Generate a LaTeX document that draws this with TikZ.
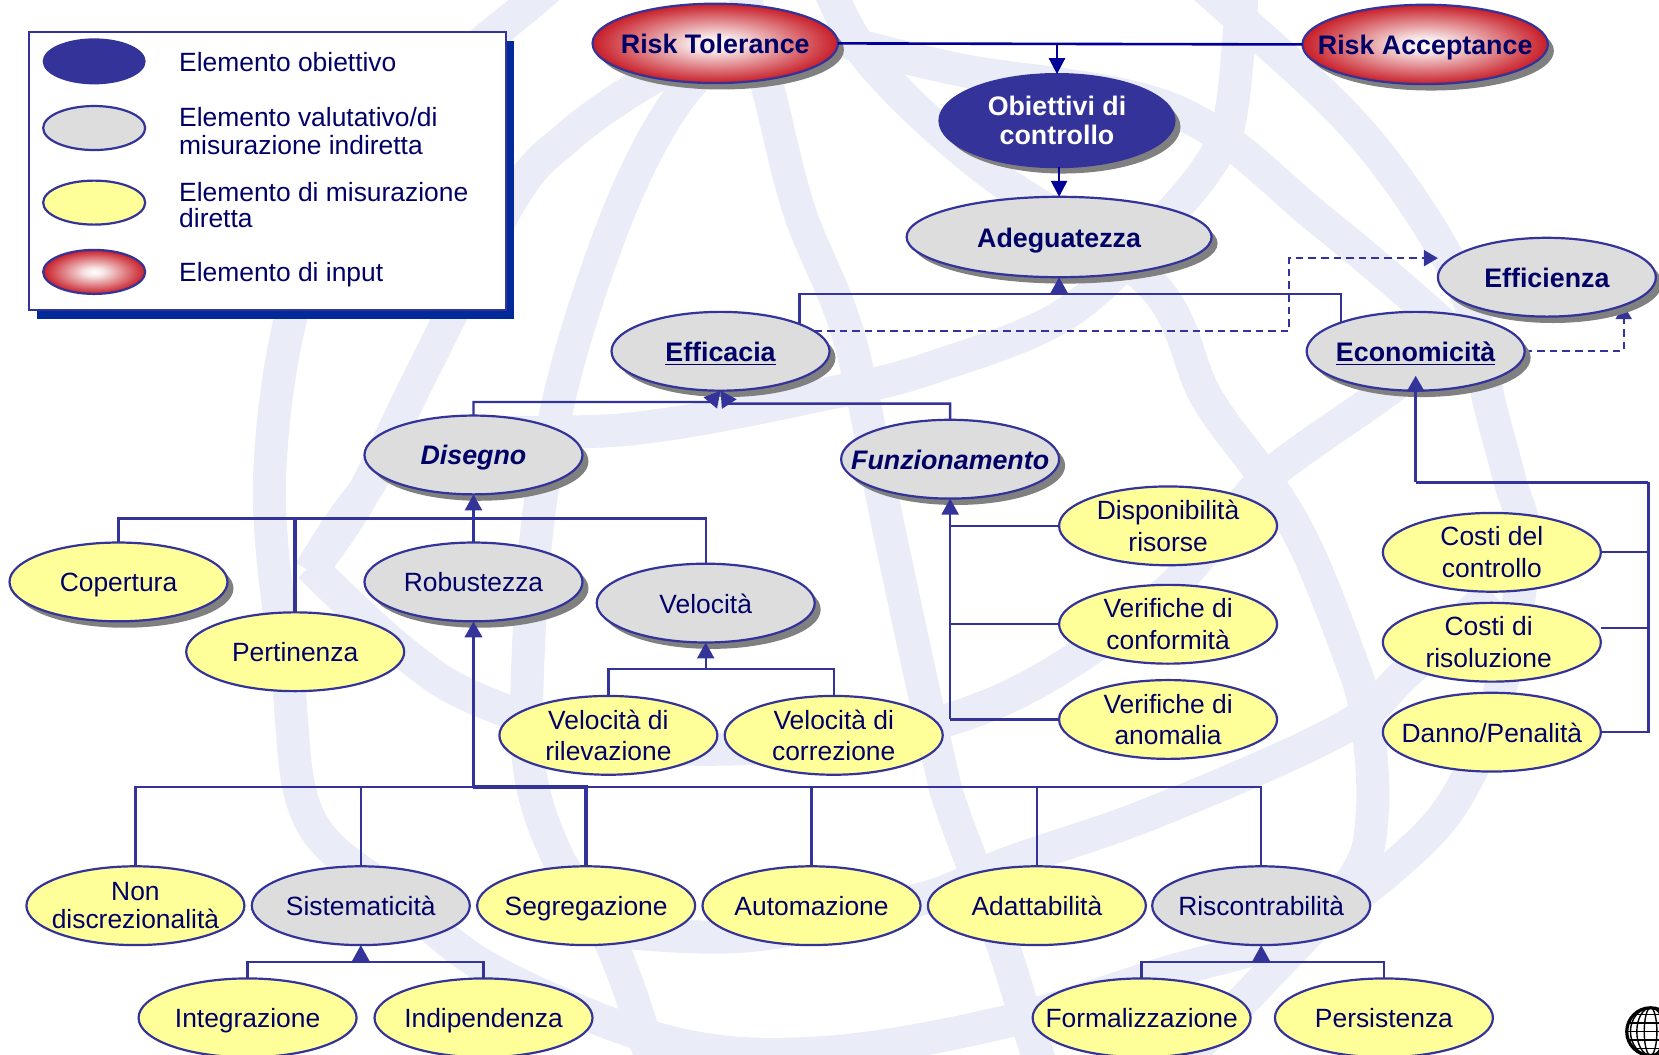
\documentclass[tikz,border=0pt]{standalone}
\usepackage{fontspec}
\setmainfont{Liberation Sans}
\usetikzlibrary{shapes.geometric,shadows,arrows.meta,calc}
\definecolor{linecol}{HTML}{333399}
\definecolor{topline}{HTML}{000099}
\definecolor{txtcol}{HTML}{000066}
\definecolor{greyfill}{HTML}{DDDDDD}
\definecolor{yelfill}{HTML}{FFFF99}
\definecolor{shadowgrey}{HTML}{808080}
\definecolor{legshadow}{HTML}{002A9A}
\definecolor{wmark}{HTML}{EAEDF7}
\definecolor{redrim}{HTML}{C81E28}
\definecolor{redmid}{HTML}{F7E4E4}
\pgfdeclareradialshading{redglow}{\pgfpointorigin}{color(0bp)=(white); color(5bp)=(redmid); color(25bp)=(redrim); color(50bp)=(redrim)}
\pgfdeclarelayer{wm}
\pgfdeclarelayer{edge}
\pgfsetlayers{wm,edge,main}
\newcommand{\oneline}[1]{\raisebox{-1.6pt}[.72em][.21em]{#1}}
\tikzset{
  shd/.style={drop shadow={shadow xshift=3pt,shadow yshift=-3.2pt,fill=shadowgrey,opacity=1}},
  ell/.style={shape=ellipse,inner sep=0pt,outer sep=0pt,draw=linecol,line width=1.1pt,minimum width=109pt,minimum height=39.4pt},
  greyn/.style={ell,fill=greyfill,shd},
  greyp/.style={ell,fill=greyfill},
  yeln/.style={ell,fill=yelfill},
  rednode/.style={ell,shading=redglow,shd,minimum width=122.7pt,minimum height=39.7pt},
  every label/.style={text=txtcol,align=center,inner sep=0pt,font=\fontsize{13.2}{15.9}\selectfont},
  bl/.style={font=\fontsize{13.4}{14.3}\selectfont\bfseries},
  bi/.style={font=\fontsize{13.4}{14.3}\selectfont\bfseries\itshape},
  legtxt/.style={text=txtcol,anchor=west,inner sep=0pt,align=left,font=\fontsize{13.2}{14.3}\selectfont},
  conn/.style={draw=linecol,line width=1.15pt},
  thickconn/.style={draw=linecol,line width=1.8pt},
  arr/.style={conn,-{Triangle[length=8pt,width=8.5pt]}},
  thickarr/.style={thickconn,-{Triangle[length=8pt,width=8.5pt]}},
  darr/.style={draw=topline,line width=1.3pt,-{Triangle[length=8pt,width=8pt]}},
  dline/.style={draw=topline,line width=1.3pt},
  dashconn/.style={draw=linecol,line width=1.15pt,dash pattern=on 3.8pt off 2.5pt,-{Triangle[length=7pt,width=8pt]}},
  wmb/.style={draw=wmark,line width=16.5pt},
}
\begin{document}
\begin{tikzpicture}[x=0.529pt,y=-0.529pt]
\useasboundingbox (0,0) rectangle (1568,997);
% watermark
\begin{pgfonlayer}{wm}
\begin{scope}
\clip (0,0) rectangle (1568,997);
% outer ring
\draw[wmb] plot[smooth,tension=.6] coordinates {(530,-20) (505,0) (380,110) (290,250) (255,445) (272,640) (293,775) (378,850) (470,920) (633,985) (775,995) (945,967) (1100,920) (1230,880) (1335,803) (1386,737) (1420,643) (1441,517) (1427,454) (1407,378) (1384,274) (1290,130) (1152,0) (1120,-25)};
% meridians
\draw[wmb] plot[smooth,tension=.6] coordinates {(690,40) (640,95) (598,170) (561,265) (530,370) (510,480) (500,600) (500,723) (526,808) (567,870) (595,936) (618,1010)};
\draw[wmb] plot[smooth,tension=.6] coordinates {(700,-20) (728,92) (756,201) (803,321) (840,500) (886,712) (901,768) (945,885) (970,964) (985,1010)};
\draw[wmb] plot[smooth,tension=.6] coordinates {(780,-20) (822,57) (929,158) (1087,267) (1140,375) (1197,454) (1234,517) (1272,611) (1291,674) (1297,768) (1278,832) (1190,930) (1110,1010)};
% latitudes
\draw[wmb] plot[smooth,tension=.6] coordinates {(293,540) (340,472) (400,350) (485,186) (536,130) (598,85) (660,50)};
\draw[wmb] plot[smooth,tension=.6] coordinates {(293,540) (340,470) (400,415) (600,405) (787,371) (882,347) (1008,296) (1103,205) (1150,145) (1165,97) (1175,-20)};
\draw[wmb] plot[smooth,tension=.6] coordinates {(293,535) (378,614) (454,662) (600,705) (800,700) (950,660) (1090,570) (1155,500) (1202,447) (1303,375) (1370,325)};
\draw[wmb] plot[smooth,tension=.6] coordinates {(530,875) (700,885) (870,850) (952,816) (1090,768) (1266,690) (1329,636) (1410,560)};
\draw[wmb] plot[smooth,tension=.6] coordinates {(800,40) (907,66) (1109,104) (1248,208) (1370,312) (1415,360)};
\end{scope}
\end{pgfonlayer}
% legend
\node[draw=linecol,line width=1.1pt,fill=white,minimum width=238.5pt,minimum height=139pt,inner sep=0pt,outer sep=0pt,
  drop shadow={shadow xshift=4.4pt,shadow yshift=-4.7pt,fill=legshadow,opacity=1}] (legend) at (252.5,161.5) {};
\node[shape=ellipse,fill=linecol,draw=none,inner sep=0pt,minimum width=51.5pt,minimum height=23pt] (lg1) at (89,58) {};
\node[shape=ellipse,fill=greyfill,draw=linecol,line width=1.1pt,inner sep=0pt,minimum width=51pt,minimum height=22pt] (lg2) at (89,121) {};
\node[shape=ellipse,fill=yelfill,draw=linecol,line width=1.1pt,inner sep=0pt,minimum width=51pt,minimum height=22pt] (lg3) at (89,191.5) {};
\node[shape=ellipse,shading=redglow,draw=linecol,line width=1.1pt,inner sep=0pt,minimum width=51pt,minimum height=22pt] (lg4) at (89,257) {};
\node[legtxt] (lt1) at (169,58) {\oneline{Elemento obiettivo}};
\node[legtxt] (lt2) at (169,124) {Elemento valutativo/di\\misurazione indiretta};
\node[legtxt,font=\fontsize{13.2}{12.7}\selectfont] (lt3) at (169,194) {Elemento di misurazione\\diretta};
\node[legtxt] (lt4) at (169,257) {\oneline{Elemento di input}};
% nodes
\node[rednode,label={[bl]center:\oneline{Risk Tolerance}}] (rt) at (676,41) {};
\node[rednode,label={[bl]center:\oneline{Risk Acceptance}}] (ra) at (1347,42) {};
\node[ell,fill=linecol,shd,draw=linecol,minimum width=117.5pt,minimum height=46.5pt,label={[bl,text=white]center:Obiettivi di\\controllo}] (ob) at (999,114) {};
\node[greyn,minimum width=152.5pt,minimum height=40.2pt,label={[bl]center:\oneline{Adeguatezza}}] (ad) at (1001,224) {};
\node[greyn,label={[bl]center:\oneline{Efficienza}}] (efz) at (1462,262) {};
\node[greyn,label={[bl]center:\oneline{\underline{Efficacia}}}] (eff) at (681,332) {};
\node[greyn,label={[bl]center:\oneline{\underline{Economicità}}}] (eco) at (1338,332) {};
\node[greyn,label={[bi]center:\oneline{Disegno}}] (dis) at (447.5,430) {};
\node[greyn,label={[bi]center:\oneline{Funzionamento}}] (fun) at (898,434) {};
\node[yeln,label={center:Disponibilità\\risorse}] (dr) at (1104,497) {};
\node[yeln,label={center:Verifiche di\\conformità}] (vc) at (1104,590) {};
\node[yeln,label={center:Verifiche di\\anomalia}] (va) at (1104,680) {};
\node[yeln,shd,label={center:\oneline{Copertura}}] (cop) at (112,550) {};
\node[yeln,label={center:\oneline{Pertinenza}}] (per) at (279,616) {};
\node[greyn,label={center:\oneline{Robustezza}}] (rob) at (447.5,550) {};
\node[greyn,label={center:\oneline{Velocità}}] (vel) at (667,570) {};
\node[yeln,label={center:Velocità di\\rilevazione}] (vr) at (575,695) {};
\node[yeln,label={center:Velocità di\\correzione}] (vk) at (788,695) {};
\node[yeln,label={center:Costi del\\controllo}] (cc) at (1410,522) {};
\node[yeln,label={[xshift=-1.6pt]center:Costi di\\risoluzione}] (cr) at (1410,607) {};
\node[yeln,label={center:\oneline{Danno/Penalità}}] (dp) at (1410,692) {};
\node[yeln,label={[font=\fontsize{13.2}{13.8}\selectfont]center:Non\\discrezionalità}] (nd) at (128,856) {};
\node[greyp,label={center:\oneline{Sistematicità}}] (sis) at (341,856) {};
\node[yeln,label={center:\oneline{Segregazione}}] (seg) at (554,856) {};
\node[yeln,label={center:\oneline{Automazione}}] (aut) at (767,856) {};
\node[yeln,label={center:\oneline{Adattabilità}}] (ada) at (980,856) {};
\node[greyp,label={center:\oneline{Riscontrabilità}}] (ris) at (1192,856) {};
\node[yeln,label={center:\oneline{Integrazione}}] (int) at (234,962) {};
\node[yeln,label={center:\oneline{Indipendenza}}] (ind) at (457,962) {};
\node[yeln,label={center:\oneline{Formalizzazione}}] (fmz) at (1079,962) {};
\node[yeln,label={center:\oneline{Persistenza}}] (pst) at (1308,962) {};
% junctions
\coordinate (jtop) at (999,41.5);
\coordinate (jad) at (1001,278);
\coordinate (jdl) at (672,380);
\coordinate (jdr) at (689,381.5);
\coordinate (jdis) at (447.5,490);
\coordinate (jvel) at (667,632);
\coordinate (jbus) at (447.5,744);
\coordinate (jsis) at (341,909);
\coordinate (jris) at (1192,909);
\coordinate (jfun) at (898,680);
\coordinate (jeco) at (1338,456);
\coordinate (jecotip) at (1338,355);
\coordinate (jbar) at (1558,456);
\coordinate (jdash) at (1218,244);
% connectors
\draw[dline] (rt.east) -- (jtop);
\draw[dline] (ra.west) -- (jtop);
\draw[darr] (jtop) -- (ob.north);
\draw[darr] (ob.south -| ad.north) -- (ad.north);
\draw[conn] (eff.19) |- (jad);
\draw[conn] (eco.159) |- (jad);
\draw[arr] (jad) -- (ad.south);
\draw[arr] (dis.north) |- (jdl) -- (eff.south);
\draw[arr] (fun.north) |- (jdr) -- (eff.south);
\draw[conn] (cop.north) |- (jdis);
\draw[thickconn] (per.north) |- (jdis);
\draw[conn] (vel.north) |- (jdis);
\draw[arr] (rob.north) -- (dis.south);
\draw[conn] (vr.north) |- (jvel);
\draw[conn] (vk.north) |- (jvel);
\draw[arr] (jvel) -- (vel.south);
\draw[thickarr] (jbus) -- (rob.south);
\draw[conn] (nd.north) |- (jbus);
\draw[conn] (sis.north) |- (jbus);
\draw[thickconn] (seg.north) |- (jbus);
\draw[conn] (aut.north) |- (jbus);
\draw[conn] (ada.north) |- (jbus);
\draw[conn] (ris.north) |- (jbus);
\draw[conn] (int.north) |- (jsis);
\draw[conn] (ind.north) |- (jsis);
\draw[arr] (jsis) -- (sis.south);
\draw[conn] (fmz.north) |- (jris);
\draw[conn] (pst.north) |- (jris);
\draw[arr] (jris) -- (ris.south);
\draw[arr] (jfun) -- (fun.south);
\draw[conn] (dr.west) -- (dr.west -| jfun);
\draw[conn] (vc.west) -- (vc.west -| jfun);
\draw[conn] (va.west) -- (jfun);
\draw[conn] (cc.east) -- (cc.east -| jbar);
\draw[conn] (cr.east |- cr.8) -- (cr.8 -| jbar);
\draw[conn] (dp.east) -| (jbar);
\draw[thickconn] (jbar) -- (jeco);
\draw[thickarr] (jeco) -- (jecotip);
\begin{pgfonlayer}{edge}
\draw[dashconn] (eff.12) -| (jdash) -- (efz.west |- jdash);
\draw[dashconn] (eco.east) -| (efz.340);
\end{pgfonlayer}
% small globe
\begin{scope}
\clip (1530,950) rectangle (1568,997);
\draw[black,line width=1.6pt] (1560,975) circle [radius=22.5];
\foreach \rx in {6,13,19} \draw[black,line width=.7pt] (1560,975) ellipse [x radius=\rx,y radius=22.5];
\foreach \dy/\hw in {-16/16,-8/21,0/22.5,8/21,16/16} \draw[black,line width=.7pt] (1560-\hw,975+\dy) -- (1560+\hw,975+\dy);
\end{scope}
\end{tikzpicture}
\end{document}
